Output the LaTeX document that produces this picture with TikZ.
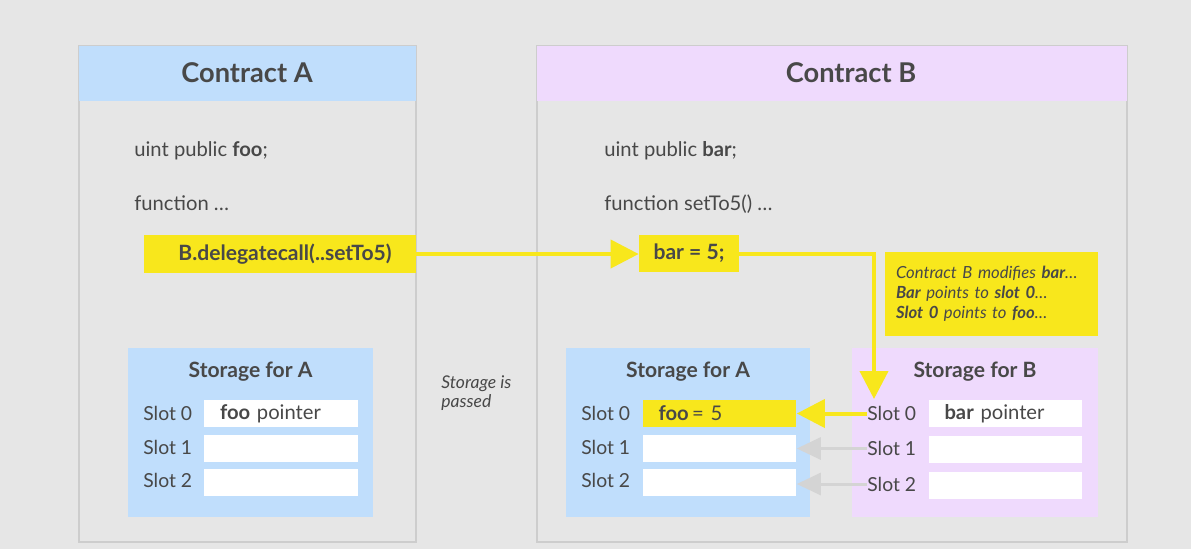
\documentclass[tikz,border=0pt]{standalone}
\usepackage{fontspec}
\setmainfont{Lato}
\usetikzlibrary{arrows.meta, positioning}

\definecolor{bgcol}{HTML}{E6E6E6}
\definecolor{framecol}{HTML}{CDCDCD}
\definecolor{ablue}{HTML}{C0DEFC}
\definecolor{blilac}{HTML}{EFDAFD}
\definecolor{hlyellow}{HTML}{F8E71C}
\definecolor{inkcol}{HTML}{484848}
\definecolor{ghostcol}{HTML}{D4D4D4}

\begin{document}
\begin{tikzpicture}[
    x=0.02cm, y=-0.02cm,
    every node/.style={font=\fontsize{11.5}{14}\selectfont, text=inkcol},
    contract/.style={rectangle, draw=framecol, line width=1.1pt, fill=bgcol, inner sep=0pt, minimum height=9.92cm},
    header/.style={rectangle, inner sep=0pt, minimum height=1.1cm},
    ctitle/.style={inner sep=0pt, font=\bfseries\fontsize{15.5}{18}\selectfont},
    storage/.style={rectangle, inner sep=0pt, minimum height=3.38cm},
    stitle/.style={font=\bfseries\fontsize{12}{14}\selectfont, inner sep=0pt},
    slotbox/.style={rectangle, fill=white, inner xsep=0.32cm, inner ysep=0pt, text width=2.44cm, align=left, minimum height=0.54cm},
    slotlabel/.style={anchor=west, inner sep=0pt, font=\fontsize{11}{13}\selectfont},
    code/.style={anchor=base west, inner sep=0pt},
    hlbox/.style={rectangle, fill=hlyellow, inner sep=0pt, font=\bfseries\fontsize{12}{14}\selectfont},
    remark/.style={align=left, inner sep=0pt, font=\itshape\fontsize{9.5}{11.5}\selectfont},
    yarrow/.style={-{Triangle[length=0.56cm, width=0.56cm]}, line width=0.08cm, draw=hlyellow},
    garrow/.style={-{Triangle[length=0.48cm, width=0.44cm]}, line width=0.06cm, draw=ghostcol}
]

% Background
\fill[bgcol] (0,0) rectangle (1191,549);
\useasboundingbox (0,0) rectangle (1191,549);

% ============ CONTRACT A ============
\node[contract, minimum width=6.74cm] (conA) at (247.5,294) {};
\node[header, fill=ablue, minimum width=6.74cm] (hdrA) at (247.5,73.5) {};
\node[ctitle] (titleA) at (247,73) {Contract A};

\node[code] (fooDecl) at (134,156) {uint public \textbf{foo};};
\node[code] (funA) at (134,210) {function …};

\node[hlbox, minimum width=5.44cm, minimum height=0.76cm] (callA) at (280,254) {\hspace{0.2cm}B.delegatecall(..setTo5)};

% storage of A
\node[storage, fill=ablue, minimum width=4.9cm] (stA) at (250.5,432.5) {};
\node[stitle] (stAtitle) at (250.5,372) {Storage for A};
\node[slotbox] (sa0) at (281,413.5) {\textbf{foo} pointer};
\node[slotbox, below=0.14cm of sa0] (sa1) {};
\node[slotbox, below=0.14cm of sa1] (sa2) {};
\node[slotlabel] (la0) at (143,413.5) {Slot 0};
\node[slotlabel] (la1) at (143,447) {Slot 1};
\node[slotlabel] (la2) at (143,480.5) {Slot 2};

\node[remark, anchor=west, font=\itshape\fontsize{10}{11}\selectfont] (passed) at (441,393) {Storage is\\passed};

% ============ CONTRACT B ============
\node[contract, minimum width=11.8cm] (conB) at (832,294) {};
\node[header, fill=blilac, minimum width=11.8cm] (hdrB) at (832,73.5) {};
\node[ctitle] (titleB) at (851,73) {Contract B};

\node[code] (barDecl) at (604,156) {uint public \textbf{bar};};
\node[code] (funB) at (604,210) {function setTo5() …};

\node[hlbox, minimum width=2cm, minimum height=0.74cm] (bar5) at (689,253.5) {bar = 5;};

\node[hlbox, remark, inner xsep=0.22cm, text width=3.82cm, minimum height=1.68cm] (note) at (991.5,294)
    {Contract B modifies \textbf{bar}…\\\textbf{Bar} points to \textbf{slot 0}…\\\textbf{Slot 0} points to \textbf{foo}…};

% storage of A, as seen by B
\node[storage, fill=ablue, minimum width=4.88cm] (stR) at (688,432.5) {};
\node[stitle] (stRtitle) at (688,372) {Storage for A};
\node[slotbox, fill=hlyellow] (sr0) at (719.5,413.5) {\textbf{foo}\,= 5};
\node[slotbox, below=0.14cm of sr0] (sr1) {};
\node[slotbox, below=0.14cm of sr1] (sr2) {};
\node[slotlabel] (lr0) at (581,413.5) {Slot 0};
\node[slotlabel] (lr1) at (581,447) {Slot 1};
\node[slotlabel] (lr2) at (581,480.5) {Slot 2};

% storage of B
\node[storage, fill=blilac, minimum width=4.92cm] (stB) at (975,432.5) {};
\node[stitle] (stBtitle) at (975,372) {Storage for B};
\node[slotbox] (sb0) at (1005.5,413.5) {\textbf{bar} pointer};
\node[slotbox, below=0.16cm of sb0] (sb1) {};
\node[slotbox, below=0.18cm of sb1] (sb2) {};
\node[slotlabel] (lb0) at (867,413.5) {Slot 0};
\node[slotlabel] (lb1) at (867,448.5) {Slot 1};
\node[slotlabel] (lb2) at (867,484) {Slot 2};

% ============ ARROWS ============
\coordinate (drop) at (874,399);

\draw[yarrow] (callA.east) -- (callA.east -| bar5.west);
\draw[yarrow] (bar5.east) -| (drop);
\draw[yarrow] (lb0.west) -- (sr0.east);

\draw[garrow] (lb1.west) -- (lb1.west -| sr1.east);
\draw[garrow] (lb2.west) -- (lb2.west -| sr2.east);

\end{tikzpicture}
\end{document}
